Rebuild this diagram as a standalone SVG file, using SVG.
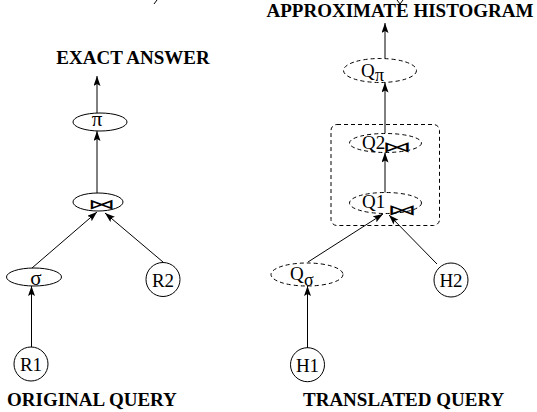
<svg xmlns="http://www.w3.org/2000/svg" width="537" height="412" viewBox="0 0 537 412">
<style>
.t{font-family:"Liberation Serif","Times New Roman",serif;font-weight:bold;font-size:19px;fill:#000}
.l{font-family:"Liberation Serif","Times New Roman",serif;font-size:19px;fill:#000}
.g{font-family:"Liberation Serif","Times New Roman",serif;font-size:21px;fill:#000}
.s{font-family:"Liberation Serif","Times New Roman",serif;font-size:18px;fill:#000}
.bt{font-family:"DejaVu Sans",sans-serif;font-size:20px;fill:#000}
.d{fill:none;stroke:#000;stroke-width:1;stroke-dasharray:4,3}
.e{fill:none;stroke:#000;stroke-width:1}
</style>
<defs>
<marker id="ah" markerUnits="userSpaceOnUse" markerWidth="10" markerHeight="8" refX="10" refY="3.5" orient="auto">
<path d="M0,0 L10,3.5 L0,7 L2,3.5 z" fill="#000"/>
</marker>
</defs>
<rect width="537" height="412" fill="#fff"/>
<path d="M157,0 L154,4" class="e"/>
<path d="M397,0 L400,4 L403,0" class="e"/>
<text class="t" x="133" y="64" text-anchor="middle">EXACT ANSWER</text>
<text class="t" x="7" y="406">ORIGINAL QUERY</text>
<text class="t" x="400" y="17" text-anchor="middle">APPROXIMATE HISTOGRAM</text>
<text class="t" x="303" y="406">TRANSLATED QUERY</text>
<g id="connectors">
<line class="e" x1="97" y1="113" x2="97" y2="76" marker-end="url(#ah)"/>
<line class="e" x1="97" y1="193" x2="97" y2="131" marker-end="url(#ah)"/>
<line class="e" x1="31.5" y1="347" x2="31.5" y2="286" marker-end="url(#ah)"/>
<line class="e" x1="32" y1="268" x2="97" y2="212" marker-end="url(#ah)"/>
<line class="e" x1="163" y1="262" x2="105" y2="213" marker-end="url(#ah)"/>
<line class="e" x1="385" y1="58" x2="385" y2="23" marker-end="url(#ah)"/>
<line class="e" x1="385" y1="133" x2="385" y2="82.5" marker-end="url(#ah)"/>
<line class="e" x1="385" y1="192.5" x2="385" y2="152.5" marker-end="url(#ah)"/>
<line class="e" x1="307.5" y1="348" x2="307.5" y2="286" marker-end="url(#ah)"/>
<line class="e" x1="308" y1="262" x2="383" y2="214" marker-end="url(#ah)"/>
<line class="e" x1="437" y1="264" x2="389" y2="215" marker-end="url(#ah)"/>
</g>
<g id="pi">
<ellipse class="e" cx="100" cy="122" rx="27" ry="9"/>
<text class="g" x="97" y="125.5" text-anchor="middle">π</text>
</g>
<g id="join">
<ellipse class="e" cx="98" cy="202" rx="25" ry="9"/>
<text class="bt" transform="translate(101,209) scale(1.35,0.7)" text-anchor="middle">⋈</text>
</g>
<g id="sigma">
<ellipse class="e" cx="34" cy="277" rx="27.5" ry="9"/>
<text class="g" x="36" y="285" text-anchor="middle">σ</text>
</g>
<g id="R2">
<circle class="e" cx="163" cy="279.5" r="17"/>
<text class="l" x="163" y="286.5" text-anchor="middle">R2</text>
</g>
<g id="R1">
<circle class="e" cx="31" cy="364" r="17"/>
<text class="l" x="31" y="371" text-anchor="middle">R1</text>
</g>
<g id="Qpi">
<ellipse class="d" cx="380" cy="70.5" rx="36.5" ry="12"/>
<text class="l" x="361" y="77">Q</text>
<text class="s" x="375" y="81">π</text>
</g>
<g id="group-box">
<rect class="d" x="331" y="124.5" width="108.5" height="101" rx="6"/>
</g>
<g id="Q2">
<ellipse class="d" cx="385.5" cy="143" rx="36" ry="9.5"/>
<text class="l" x="362" y="148.5">Q2</text>
<text class="bt" transform="translate(397,152) scale(1.5,0.75)" text-anchor="middle">⋈</text>
</g>
<g id="Q1">
<ellipse class="d" cx="385.5" cy="203" rx="36" ry="10.5"/>
<text class="l" x="362" y="207.5">Q1</text>
<text class="bt" transform="translate(402,215) scale(1.5,0.75)" text-anchor="middle">⋈</text>
</g>
<g id="Qsigma">
<ellipse class="d" cx="307" cy="274.5" rx="36" ry="11.5"/>
<text class="l" x="290" y="280">Q</text>
<text class="s" x="304" y="285.5">σ</text>
</g>
<g id="H2">
<circle class="e" cx="451" cy="280" r="17"/>
<text class="l" x="451" y="287" text-anchor="middle">H2</text>
</g>
<g id="H1">
<circle class="e" cx="307.5" cy="364.7" r="17"/>
<text class="l" x="307.5" y="371.5" text-anchor="middle">H1</text>
</g>
</svg>
